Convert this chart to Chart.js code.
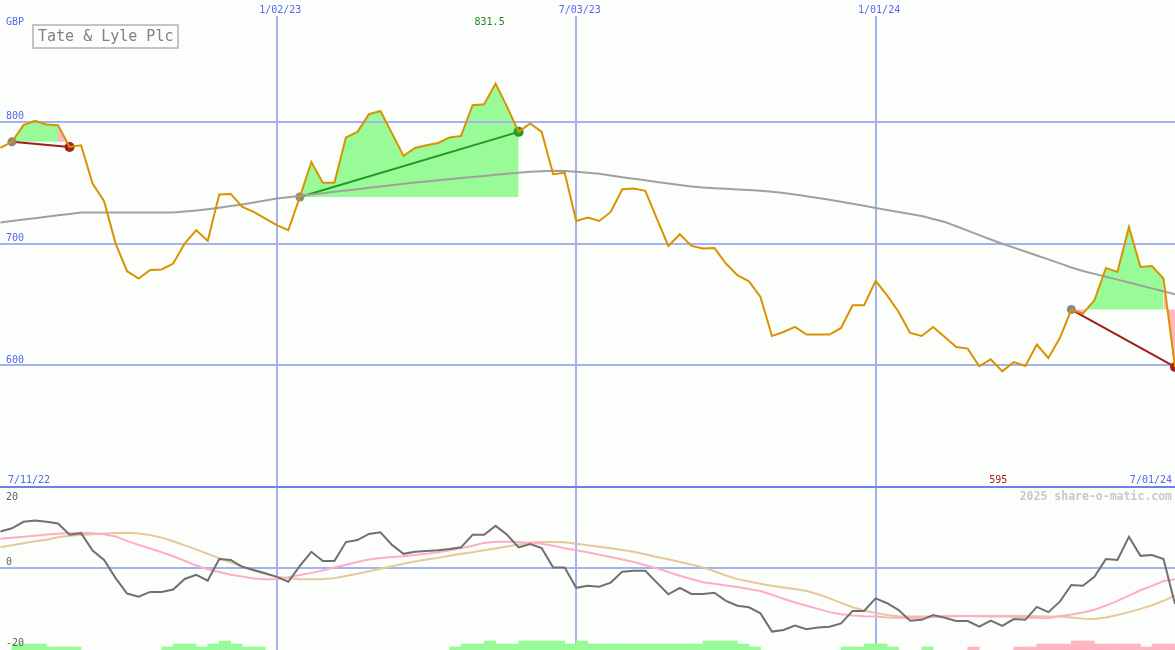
<!DOCTYPE html>
<html><head><meta charset="utf-8">
<script src="https://cdn.jsdelivr.net/npm/chart.js@4.4.1/dist/chart.umd.min.js"></script>
<style>
html,body{margin:0;padding:0;background:#fcfefc;}
body{width:1175px;height:650px;position:relative;overflow:hidden;}
#top{position:absolute;left:0;top:0;}
#bot{position:absolute;left:0;top:486px;}
</style></head><body>
<canvas id="top" width="1175" height="487"></canvas>
<canvas id="bot" width="1175" height="164"></canvas>
<script>
// ---------- data ----------
const title = 'Tate & Lyle Plc';
const currency = 'GBP';
const startLabel = '7/11/22';
const endLabel = '7/01/24';
const watermark = '2025 share-o-matic.com';
const xTickIdx = [24, 50, 76];
const xTickLabels = ['1/02/23', '7/03/23', '1/01/24'];
const priceTicks = [600, 700, 800];
const oscTicks = [20, 0, -20];

// weekly close (GBp)
const price = [
  778.6, 783.6, 797.3, 800.8, 797.9, 797.3, 779.4, 780.8, 749.4, 734.8,
  700.0, 677.3, 671.3, 678.3, 678.7, 683.6, 700.0, 711.0, 702.2, 740.3,
  740.8, 730.1, 726.0, 720.6, 715.1, 711.0, 738.3, 767.1, 749.9, 749.9,
  787.2, 791.8, 806.3, 809.0, 790.7, 772.1, 778.6, 780.8, 782.7, 787.2,
  788.5, 813.7, 814.5, 831.5, 812.3, 791.8, 798.7, 791.8, 757.0, 758.1,
  718.6, 721.4, 718.6, 726.0, 744.7, 745.3, 743.3, 720.6, 698.1, 707.7,
  698.1, 695.9, 696.4, 683.6, 674.0, 669.0, 656.1, 624.1, 627.4, 631.5,
  625.2, 625.2, 625.2, 630.7, 649.3, 649.3, 669.3, 657.5, 643.8, 626.6,
  624.1, 631.5, 623.3, 615.0, 613.7, 599.2, 604.9, 595.0, 602.7, 599.4,
  617.0, 606.0, 622.4, 645.8, 642.5, 653.4, 680.0, 676.7, 713.7, 680.8,
  681.6, 671.3, 598.6
];
// long moving average
const movingAvg = [
  717.3, 718.5, 719.7, 720.9, 722.0, 723.2, 724.4, 725.5, 725.5, 725.5,
  725.5, 725.5, 725.5, 725.5, 725.5, 725.5, 726.3, 727.2, 728.3, 729.5,
  730.8, 732.2, 733.8, 735.4, 737.0, 738.1, 739.2, 740.3, 741.4, 742.5,
  743.6, 744.7, 745.8, 746.9, 748.0, 749.1, 750.1, 751.1, 752.0, 752.9,
  753.8, 754.7, 755.6, 756.5, 757.4, 758.3, 759.0, 759.5, 759.8, 759.7,
  759.0, 758.2, 757.3, 756.0, 754.6, 753.3, 752.0, 750.7, 749.4, 748.1,
  747.0, 746.1, 745.5, 745.0, 744.5, 744.0, 743.4, 742.6, 741.5, 740.3,
  738.9, 737.5, 736.0, 734.4, 732.8, 731.1, 729.3, 727.6, 725.9, 724.3,
  722.6, 720.2, 717.8, 714.2, 710.6, 707.0, 703.4, 699.9, 696.7, 693.5,
  690.2, 687.0, 683.7, 680.4, 677.5, 675.1, 672.7, 670.4, 668.0, 665.6,
  663.2, 660.8, 658.4
];
// oscillator (dark grey)
const osc = [
  9.0, 9.8, 11.4, 11.7, 11.4, 11.0, 8.2, 8.6, 4.3, 2.0,
  -2.5, -6.3, -7.1, -5.9, -5.9, -5.3, -2.7, -1.7, -3.1, 2.2,
  2.0, 0.3, -0.5, -1.3, -2.2, -3.4, 0.5, 4.0, 1.7, 1.7,
  6.4, 6.9, 8.4, 8.8, 5.7, 3.5, 4.0, 4.2, 4.4, 4.7,
  5.1, 8.2, 8.2, 10.4, 8.2, 5.1, 5.9, 4.9, 0.1, 0.1,
  -4.9, -4.4, -4.6, -3.6, -0.9, -0.7, -0.7, -3.6, -6.5, -4.9,
  -6.4, -6.4, -6.1, -8.1, -9.3, -9.7, -11.2, -15.7, -15.3, -14.2,
  -15.1, -14.7, -14.5, -13.7, -10.6, -10.6, -7.5, -8.7, -10.4, -13.0,
  -12.8, -11.6, -12.3, -13.1, -13.1, -14.5, -13.0, -14.3, -12.6, -12.8,
  -9.6, -10.9, -8.3, -4.2, -4.4, -2.2, 2.2, 2.0, 7.7, 3.0,
  3.2, 2.2, -8.9
];
// oscillator signal (pink)
const oscSignal = [
  7.2, 7.45, 7.7, 7.95, 8.25, 8.45, 8.65, 8.7, 8.6, 8.35,
  7.8, 6.7, 5.7, 4.8, 3.9, 2.9, 1.8, 0.6, -0.3, -1.0,
  -1.65, -2.1, -2.6, -2.8, -2.75, -2.3, -1.75, -1.2, -0.6, 0.1,
  0.8, 1.5, 2.1, 2.45, 2.7, 2.9, 3.2, 3.5, 3.9, 4.4,
  4.9, 5.5, 6.2, 6.5, 6.5, 6.4, 6.2, 6.0, 5.5, 4.9,
  4.4, 3.9, 3.25, 2.7, 2.1, 1.5, 0.7, -0.1, -1.0, -1.9,
  -2.7, -3.5, -3.9, -4.3, -4.7, -5.2, -5.7, -6.6, -7.6, -8.5,
  -9.3, -10.1, -10.9, -11.4, -11.7, -11.9, -12.0, -12.2, -12.3, -12.4,
  -12.3, -12.1, -11.95, -11.85, -11.85, -11.9, -11.95, -12.0, -12.05, -12.2,
  -12.35, -12.4, -11.9, -11.5, -11.0, -10.3, -9.3, -8.1, -6.8, -5.5,
  -4.4, -3.2, -2.8
];
// slow oscillator average (tan)
const oscSlow = [
  5.1, 5.6, 6.1, 6.6, 7.0, 7.6, 7.95, 8.15, 8.35, 8.5,
  8.65, 8.7, 8.5, 8.15, 7.5, 6.6, 5.6, 4.6, 3.5, 2.4,
  1.4, 0.3, -0.7, -1.5, -2.15, -2.5, -2.75, -2.8, -2.7, -2.5,
  -1.95, -1.4, -0.8, -0.2, 0.45, 1.05, 1.6, 2.1, 2.5, 3.0,
  3.5, 3.9, 4.4, 4.8, 5.3, 5.8, 6.3, 6.45, 6.4, 6.35,
  6.0, 5.6, 5.25, 4.9, 4.45, 4.0, 3.4, 2.7, 2.15, 1.5,
  0.85, 0.15, -0.8, -1.85, -2.75, -3.35, -3.9, -4.4, -4.8, -5.2,
  -5.7, -6.5, -7.5, -8.6, -9.7, -10.5, -11.1, -11.6, -11.9, -12.0,
  -12.0, -11.95, -11.9, -11.9, -11.85, -11.85, -11.85, -11.85, -11.85, -11.85,
  -11.9, -11.95, -12.0, -12.2, -12.5, -12.6, -12.2, -11.6, -10.9, -10.1,
  -9.2, -8.1, -6.8
];
// signal strength per weekly interval
const greenBars = [
  0,2,2,2,1,1,1,0,0,0, 0,0,0,0,1,2,2,1,2,3, 2,1,1,0,0,0,0,0,0,0,
  0,0,0,0,0,0,0,0,0,1, 2,2,3,2,2,3,3,3,3,2, 3,2,2,2,2,2,2,2,2,2,
  2,3,3,3,2,1,0,0,0,0, 0,0,0,1,1,2,2,1,0,0, 1,0,0,0,0,0,0,0,0,0,
  0,0,0,0,0,0,0,0,0,0, 0,0
];
const pinkBars = [
  0,0,0,0,0,0,0,0,0,0, 0,0,0,0,0,0,0,0,0,0, 0,0,0,0,0,0,0,0,0,0,
  0,0,0,0,0,0,0,0,0,0, 0,0,0,0,0,0,0,0,0,0, 0,0,0,0,0,0,0,0,0,0,
  0,0,0,0,0,0,0,0,0,0, 0,0,0,0,0,0,0,0,0,0, 0,0,0,0,1,0,0,0,1,1,
  2,2,2,3,3,2,2,2,2,1, 2,2
];
// trend segments: [start week index, end week index]
const trendSegments = [[1, 6], [26, 45], [93, 102]];

// ---------- styling ----------
const X_MIN = -0.04, X_MAX = 102;
const GRID = '#a4b2f0', SEP = '#6f80e8', BLUE = '#5566ee';
const GREEN_FILL = '#98fb98', PINK_FILL = '#ffb6c1';
const FONT = '"DejaVu Sans Mono", monospace';
const pts = arr => arr.map((v, i) => ({x: i, y: v}));

// ---------- top panel ----------
const topDatasets = [
  {data: pts(price), borderColor: '#d99200', borderWidth: 2, pointRadius: 0, fill: false, order: 0},
  {data: pts(movingAvg), borderColor: '#a0a0a0', borderWidth: 2, pointRadius: 0, fill: false, order: 1}
];
trendSegments.forEach(([s, e]) => {
  const up = price[e] >= price[s];
  topDatasets.push({
    data: [{x: s, y: price[s]}, {x: e, y: price[e]}],
    borderColor: up ? '#229922' : '#a01c1c', borderWidth: 2,
    pointRadius: [4.5, 5], pointBorderWidth: 0,
    pointBackgroundColor: ['#888888', up ? '#2a982a' : '#a81c1c'],
    fill: false, order: 2
  });
  const base = price[s];
  const pushRun = (a, b, col) => topDatasets.push({
    data: pts(price).slice(a, b + 1), fill: {value: base},
    backgroundColor: col, borderColor: 'rgba(0,0,0,0)', borderWidth: 0,
    pointRadius: 0, order: 3
  });
  let runStart = s, runCol = null;
  for (let k = s; k < e; k++) {
    const col = price[k + 1] >= base ? GREEN_FILL : PINK_FILL;
    if (runCol === null) runCol = col;
    if (col !== runCol) { pushRun(runStart, k, runCol); runStart = k; runCol = col; }
  }
  pushRun(runStart, e, runCol);
});

const maxIdx = price.indexOf(Math.max(...price));
const minIdx = price.indexOf(Math.min(...price));

const topText = {
  id: 'topText',
  afterDraw(chart) {
    const {ctx} = chart, x = chart.scales.x, y = chart.scales.y;
    ctx.save();
    ctx.font = '10px ' + FONT;
    ctx.fillStyle = BLUE;
    ctx.textAlign = 'left';
    ctx.textBaseline = 'alphabetic';
    ctx.fillText(currency, 6, 25);
    priceTicks.forEach(v => ctx.fillText(String(v), 6, y.getPixelForValue(v) - 2.5));
    ctx.fillText(startLabel, 8, 483);
    ctx.textAlign = 'right';
    ctx.fillText(endLabel, 1172, 483);
    ctx.textAlign = 'center';
    xTickIdx.forEach((v, k) => ctx.fillText(xTickLabels[k], x.getPixelForValue(v) + 3.5, 13));
    ctx.fillStyle = '#228822';
    ctx.fillText(String(price[maxIdx]), x.getPixelForValue(maxIdx) - 6, 25);
    ctx.fillStyle = '#a01c1c';
    ctx.fillText(String(price[minIdx]), x.getPixelForValue(minIdx) - 4, 483);
    // title box
    ctx.strokeStyle = '#c4c4c4';
    ctx.lineWidth = 2;
    ctx.strokeRect(33, 25, 145, 23);
    ctx.font = '15px ' + FONT;
    ctx.fillStyle = '#808080';
    ctx.textAlign = 'left';
    ctx.fillText(title, 38, 41);
    ctx.restore();
  }
};

new Chart(document.getElementById('top'), {
  type: 'line',
  data: {datasets: topDatasets},
  options: {
    responsive: false, animation: false, devicePixelRatio: 1, events: [],
    layout: {padding: 0, autoPadding: false},
    plugins: {legend: {display: false}, tooltip: {enabled: false}, filler: {drawTime: 'beforeDraw'}},
    scales: {
      x: {
        type: 'linear', position: 'top', min: X_MIN, max: X_MAX, offset: false,
        afterBuildTicks: s => { s.ticks = xTickIdx.map(v => ({value: v})); },
        afterFit: s => { s.height = 16; },
        ticks: {display: false}, border: {display: false},
        grid: {color: GRID, lineWidth: 2, drawTicks: false, offset: false}
      },
      y: {
        type: 'linear', position: 'left', min: 500, max: 887,
        afterBuildTicks: s => { s.ticks = priceTicks.map(v => ({value: v})); },
        afterFit: s => { s.width = 0; },
        ticks: {display: false}, border: {display: false},
        grid: {color: GRID, lineWidth: 2, drawTicks: false}
      }
    }
  },
  plugins: [topText]
});

// ---------- bottom panel ----------
const bars = arr => arr.map((v, i) => v ? {x: i + 0.5, y: v} : null).filter(Boolean);
const botText = {
  id: 'botText',
  afterDraw(chart) {
    const {ctx} = chart;
    ctx.save();
    ctx.font = '10px ' + FONT;
    ctx.fillStyle = '#606060';
    ctx.textAlign = 'left';
    ctx.fillText(String(oscTicks[0]), 6, 14);
    ctx.fillText(String(oscTicks[1]), 6, 79);
    ctx.fillText(String(oscTicks[2]), 6, 159.5);
    ctx.font = 'bold 11.5px ' + FONT;
    ctx.fillStyle = '#c8c8c8';
    ctx.textAlign = 'right';
    ctx.fillText(watermark, 1172, 14);
    ctx.restore();
  }
};

new Chart(document.getElementById('bot'), {
  type: 'line',
  data: {datasets: [
    {data: pts(osc), borderColor: '#707070', borderWidth: 2, pointRadius: 0, fill: false, order: 0},
    {data: pts(oscSignal), borderColor: '#ffadc4', borderWidth: 2, pointRadius: 0, fill: false, order: 1},
    {data: pts(oscSlow), borderColor: '#e3c99b', borderWidth: 2, pointRadius: 0, fill: false, order: 2},
    {type: 'bar', data: bars(greenBars), yAxisID: 'yb', backgroundColor: GREEN_FILL, borderWidth: 0,
     barPercentage: 1, categoryPercentage: 1, grouped: false, order: 5},
    {type: 'bar', data: bars(pinkBars), yAxisID: 'yb', backgroundColor: PINK_FILL, borderWidth: 0,
     barPercentage: 1, categoryPercentage: 1, grouped: false, order: 5}
  ]},
  options: {
    responsive: false, animation: false, devicePixelRatio: 1, events: [],
    layout: {padding: 0, autoPadding: false},
    plugins: {legend: {display: false}, tooltip: {enabled: false}},
    scales: {
      x: {
        type: 'linear', position: 'bottom', min: X_MIN, max: X_MAX, offset: false,
        afterBuildTicks: s => { s.ticks = xTickIdx.map(v => ({value: v})); },
        afterFit: s => { s.height = 0; },
        ticks: {display: false}, border: {display: false},
        grid: {color: GRID, lineWidth: 2, drawTicks: false, offset: false, z: -2}
      },
      y: {
        type: 'linear', position: 'left', min: -20.247, max: 20.247,
        afterBuildTicks: s => { s.ticks = [oscTicks[0], oscTicks[1]].map(v => ({value: v})); },
        afterFit: s => { s.width = 0; },
        ticks: {display: false}, border: {display: false},
        grid: {color: c => (c.tick && c.tick.value === oscTicks[0]) ? SEP : GRID, lineWidth: 2, drawTicks: false}
      },
      yb: {type: 'linear', display: false, min: 0, max: 54.667}
    }
  },
  plugins: [botText]
});
</script></body></html>
